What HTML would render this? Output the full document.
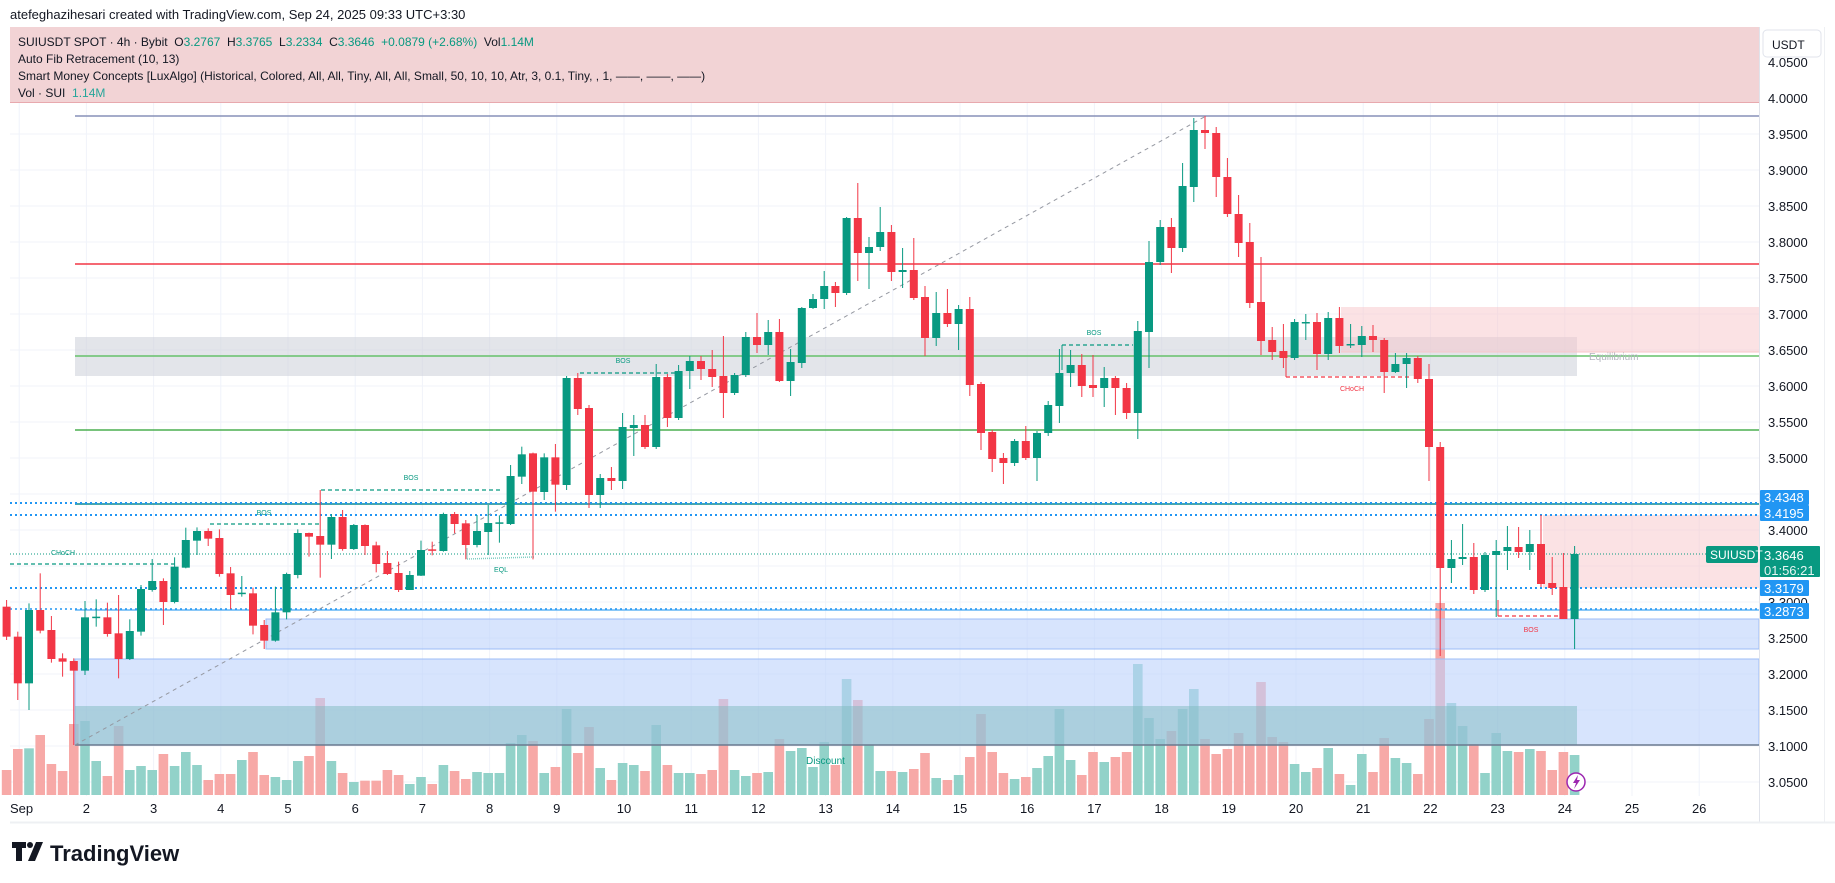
<!DOCTYPE html>
<html><head><meta charset="utf-8">
<style>
html,body{margin:0;padding:0;background:#fff;}
body{width:1835px;height:883px;overflow:hidden;position:relative;font-family:"Liberation Sans",sans-serif;}
svg{position:absolute;left:0;top:0;}
</style></head>
<body>
<svg id="s" width="1835" height="883" xmlns="http://www.w3.org/2000/svg" font-family="Liberation Sans, sans-serif"></svg>
<script>
const S=document.getElementById('s');
let h='';
const G='#089981',R='#f23645';
const xK=k=>17.8+(k-1)*11.2;
const AX=1759;
for(let d=1;d<=26;d++){const x=960+(d-15)*67.2;h+=`<line x1="${x}" y1="27" x2="${x}" y2="796" stroke="#f0f3fa" stroke-width="1"/>`;}
for(let i=0;i<=20;i++){const y=62+i*36;h+=`<line x1="10" y1="${y}" x2="${AX}" y2="${y}" stroke="#f0f3fa"/>`;}
h+=`<rect x="10" y="27" width="${AX-10}" height="76" fill="#f2d3d5"/><line x1="10" y1="102.5" x2="${AX}" y2="102.5" stroke="#e8a9ae"/>`;
const L=v=>440+v/3;
const v3=[990,927,925,885,972,993,852,843,963,1008,858,990,978,990,942,978,936,975,1020,1002,1002,960,936,1005,1011,1020,963,948,774,963,999,1026,1022,1022,990,1005,1032,1011,1032,975,993,1017,996,999,999,909,885,903,999,981,807,939,861,984,1020,969,975,993,855,975,999,999,1002,990,777,990,1008,999,996,897,933,924,981,906,975,717,780,915,993,993];
const v4=[996,987,939,1014,1020,1005,951,822,936,999,1017,1011,984,948,807,960,1005,936,966,951,936,672,834,897,873,807,747,897,942,927,879,912,726,891,906,972,996,984,924,1002,1035,942,996,894,954,969,1002,837,489,789,858,912,999,879,933,936,927,933,990,936,945];
const vols=v3.concat(v4);
const low=[['R',500,590,480,600],['R',590,730,575,780],['G',510,730,490,810],['R',510,572,400,580],['R',570,657,528,668],['R',655,665,640,710],['R',663,692,655,915],['G',532,692,483,705],['G',530,534,478,560],['R',532,582,488,590],['R',580,657,465,715],['G',573,657,538,660],['G',447,575,435,587],['G',423,450,357,455],['R',423,486,415,555],['G',380,486,352,490],['G',300,383,263,385],['G',273,302,262,345],['R',273,296,265,318],['R',294,402,268,410],['R',400,465,381,507],['G',458,462,408,470],['R',460,557,443,583],['R',555,602,540,627],['G',517,602,440,605],['G',402,517,398,538],['G',279,405,268,415],['R',279,290,278,350],['R',288,314,150,413],['G',231,314,222,357],['R',231,327,210,332],['G',255,327,252,330],['R',255,318,253,345],['R',316,372,305,397],['R',369,402,333,405],['R',399,450,365,456],['G',405,450,393,450],['G',330,407,302,408],['R',328,332,305,346],['G',222,333,218,335],['R',222,252,216,280],['R',250,315,240,358],['G',273,315,225,322],['G',249,276,195,345],['G',247,251,226,308],['G',108,252,75,255],['G',43,110,20,132],['R',40,155,38,358],['G',52,156,40,180],['R',52,134,12,215]].map(a=>[a[0],L(a[1]),L(a[2]),L(a[3]),L(a[4])]);
const up=`G 378 485 376 490;R 378 409 373 415;R 408 495 405 508;G 478 495 474 508;R 478 481 467 490;G 427 481 413 489;G 425 428 415 456;R 425 447 415 449;G 377 447 364 449;R 377 418 374 427;G 371 418 365 420;G 361 371 356 389;R 361 369 356 380;R 369 377 350 387;R 376 393 336 418;G 375 393 373 395;G 337 375 332 377;R 337 345 313 353;G 332 345 320 355;R 332 381 319 382;G 362 381 349 396;G 308 363 307 368;G 299 308 294 309;G 286 299 271 309;R 286 293 282 307;G 218 293 217 295;R 218 253 183 281;G 247 253 237 289;G 232 247 207 251;R 232 272 225 281;G 270 272 248 288;R 270 298 238 300;R 297 338 286 356;G 313 338 292 346;R 313 324 289 327;G 309 324 305 350;R 309 385 297 396;R 384 433 382 450;R 432 459 430 472;R 458 463 453 484;G 441 463 439 466;R 441 458 426 460;G 433 458 431 481;G 405 433 401 436;G 373 406 349 423;G 365 373 350 387;R 365 386 354 397;R 385 388 355 397;G 378 388 367 407;R 378 388 376 415;R 388 413 383 419;G 331 413 321 439;G 262 332 241 368;G 227 262 220 265;R 227 248 218 273;G 186 248 163 252;G 130 187 118 202;R 130 133 116 149;R 133 177 127 197;R 177 214 158 217;R 214 243 195 257;R 242 303 223 308;R 302 341 257 355;R 340 352 327 360;R 351 358 324 368;G 322 358 319 360;G 322 323 314 340;R 322 354 313 370;G 318 354 312 360;R 318 346 307 353;G 344 345 324 348;G 336 345 326 357;R 336 340 325 352;R 340 372 338 393;G 364 372 353 373;G 358 364 353 388;R 358 379 356 383;R 379 447 364 481;R 447 568 442 656;G 559 568 540 583;G 557 559 524 565;R 557 590 543 594;G 555 590 552 592;G 551 555 540 617;G 547 551 526 570;R 547 552 527 558;G 544 552 530 570;R 544 584 515 587;R 583 588 557 595;R 587 619 553 619;G 554 619 546 649`.split(';').map(s=>{const a=s.trim().split(' ');return [a[0],+a[1],+a[2],+a[3],+a[4]];});
const C=low.concat(up);
let vh='';
C.forEach((c,k)=>{const x=xK(k);const vt=L(vols[k]||1000);vh+=`<rect x="${x-4.8}" y="${vt}" width="9.6" height="${795-vt}" fill="${c[0]=='G'?'#92d2c9':'#f7a9a7'}"/>`;});
h+=vh;
h+=`<rect x="75" y="337" width="${1577-75}" height="39" fill="#d1d4dc" fill-opacity="0.6"/>`;
h+=`<rect x="1341" y="307" width="${AX-1341}" height="45" fill="#f7c6c9" fill-opacity="0.5"/><line x1="1341" y1="352" x2="${AX}" y2="352" stroke="#f7c6c9"/>`;
h+=`<rect x="1543" y="515" width="${AX-1543}" height="73" fill="#f7c6c9" fill-opacity="0.5"/>`;
h+=`<rect x="266" y="619" width="${AX-266}" height="30" fill="#bcd2fb" fill-opacity="0.6" stroke="#9dbdf7"/>`;
h+=`<rect x="75" y="659" width="${AX-75}" height="86" fill="#bcd2fb" fill-opacity="0.6" stroke="#9dbdf7"/>`;
h+=`<rect x="75" y="706" width="${1577-75}" height="39" fill="#7fb9c0" fill-opacity="0.5"/>`;
h+=`<line x1="75" y1="745" x2="${AX}" y2="745" stroke="#6b7a8f" stroke-width="1.5"/>`;
h+=`<line x1="75" y1="116" x2="${AX}" y2="116" stroke="#8791b8" stroke-width="1.5"/>`;
h+=`<line x1="75" y1="264" x2="${AX}" y2="264" stroke="#f23645" stroke-width="1.5"/>`;
h+=`<line x1="75" y1="356" x2="${AX}" y2="356" stroke="#66c26a" stroke-width="1.5"/>`;
h+=`<line x1="75" y1="430" x2="${AX}" y2="430" stroke="#4caf50" stroke-width="1.5"/>`;
h+=`<line x1="75" y1="504" x2="${AX}" y2="504" stroke="#0b8a8f" stroke-width="1.5"/>`;
h+=`<line x1="10" y1="503" x2="${AX}" y2="503" stroke="#2196f3" stroke-width="2" stroke-dasharray="2 3"/>`;
h+=`<line x1="10" y1="515" x2="${AX}" y2="515" stroke="#2196f3" stroke-width="2" stroke-dasharray="2 3"/>`;
h+=`<line x1="10" y1="554" x2="${AX}" y2="554" stroke="#089981" stroke-width="1" stroke-dasharray="1 2"/>`;
h+=`<line x1="10" y1="588" x2="${AX}" y2="588" stroke="#2196f3" stroke-width="2" stroke-dasharray="2 3"/>`;
h+=`<line x1="75" y1="610" x2="${AX}" y2="610" stroke="#64b5f6" stroke-width="1.5"/>`;
h+=`<line x1="10" y1="609" x2="${AX}" y2="609" stroke="#2196f3" stroke-width="1.5" stroke-dasharray="2 3"/>`;
h+=`<line x1="75" y1="745" x2="1206" y2="116" stroke="#9598a1" stroke-width="1" stroke-dasharray="4 4"/>`;
const dl=(x1,y1,x2,y2,c)=>`<line x1="${x1}" y1="${y1}" x2="${x2}" y2="${y2}" stroke="${c}" stroke-width="1.3" stroke-dasharray="4 3"/>`;
h+=dl(580,373,675,373,G)+dl(321,490,502,490,G)+dl(210,524,321,524,G)+dl(10,564,175,564,G)+dl(1062,345,1133,345,G)+`<line x1="1062" y1="345" x2="1062" y2="370" stroke="${G}"/>`;
h+=`<line x1="467" y1="559" x2="534" y2="557" stroke="#7fcfc3" stroke-width="1.5" stroke-dasharray="1 1"/><line x1="467" y1="548" x2="467" y2="559" stroke="#7fcfc3"/>`;
h+=dl(1286,377,1410,377,R)+`<line x1="1286" y1="352" x2="1286" y2="377" stroke="${R}"/>`+dl(1498,616,1562,616,R)+`<line x1="1498" y1="600" x2="1498" y2="616" stroke="${R}"/>`;
C.forEach((c,k)=>{const x=xK(k);const col=c[0]=='G'?G:R;let bt=c[1],bb=c[2];if(bb-bt<1.5)bb=bt+1.5;
h+=`<line x1="${x}" y1="${c[3]}" x2="${x}" y2="${c[4]}" stroke="${col}" stroke-width="1"/><rect x="${x-4}" y="${bt}" width="8" height="${bb-bt}" fill="${col}"/>`;});
const t=(x,y,s,c,fs,anc)=>`<text x="${x}" y="${y}" fill="${c}" font-size="${fs}" ${anc?'text-anchor="'+anc+'"':''}>${s}</text>`;
h+=t(623,363,'BOS',G,7,'middle')+t(411,480,'BOS',G,7,'middle')+t(264,515,'BOS',G,7,'middle')+t(63,555,'CHoCH',G,7,'middle')+t(501,572,'EQL',G,7,'middle')+t(1094,335,'BOS',G,7,'middle')+t(1352,391,'CHoCH',R,7,'middle')+t(1531,632,'BOS',R,7,'middle')+t(1589,360,'Equilibrium','#b2b5be',10)+t(806,764,'Discount',G,10);
h+=t(10,19,'atefeghazihesari created with TradingView.com, Sep 24, 2025 09:33 UTC+3:30','#131722',13);
h+=`<text x="18" y="46" font-size="12" fill="#131722" xml:space="preserve" style="white-space:pre">SUIUSDT SPOT · 4h · Bybit  O<tspan fill="${G}">3.2767</tspan>  H<tspan fill="${G}">3.3765</tspan>  L<tspan fill="${G}">3.2334</tspan>  C<tspan fill="${G}">3.3646</tspan>  <tspan fill="${G}">+0.0879 (+2.68%)</tspan>  Vol<tspan fill="${G}">1.14M</tspan></text>`;
h+=t(18,63,'Auto Fib Retracement (10, 13)','#131722',12);
h+=t(18,80,'Smart Money Concepts [LuxAlgo] (Historical, Colored, All, All, Tiny, All, All, Small, 50, 10, 10, Atr, 3, 0.1, Tiny, , 1, ——, ——, ——)','#131722',12);
h+=`<text x="18" y="97" font-size="12" fill="#131722" style="white-space:pre">Vol · SUI  <tspan fill="#26a69a">1.14M</tspan></text>`;
h+=`<line x1="1759.5" y1="27" x2="1759.5" y2="822" stroke="#e0e3eb"/><line x1="1824.5" y1="27" x2="1824.5" y2="822" stroke="#eef0f3"/><line x1="10" y1="822.5" x2="1835" y2="822.5" stroke="#eef0f3" stroke-width="2"/>`;
for(let i=0;i<=20;i++){const p=(4.05-i*0.05).toFixed(4);const y=62+i*36;h+=t(1768,y+5,p,'#131722',13);}
h+=`<rect x="1763" y="30" width="58" height="27" rx="4" fill="#fff" stroke="#e0e3eb"/>`+t(1772,49,'USDT','#131722',12);
const bx=(y1,y2,s)=>`<rect x="1760" y="${y1}" width="49" height="${y2-y1}" rx="1" fill="#2196f3"/>`+t(1764,y2-3,s,'#fff',13);
h+=bx(490,505,'3.4348')+bx(505,521,'3.4195')+bx(580,596,'3.3179')+bx(603,619,'3.2873');
h+=`<rect x="1760" y="546" width="60" height="31" rx="1" fill="${G}"/>`+t(1764,560,'3.3646','#fff',13)+t(1764,575,'01:56:21','#e6f5f2',13);
h+=`<rect x="1706" y="546" width="52" height="17" rx="2" fill="${G}"/>`+t(1710,559,'SUIUSDT','#fff',12);
h+=t(10,813,'Sep','#131722',13);
for(let d=2;d<=26;d++){const x=960+(d-15)*67.2;h+=t(x,813,d,'#131722',13,'middle');}
h+=`<circle cx="1576" cy="782" r="9" fill="#fff" stroke="#9c27b0" stroke-width="1.5"/><path d="M1578 775 L1573 783 L1576 783 L1574 789 L1580 780 L1577 780 Z" fill="#9c27b0"/>`;
h+=`<path d="M12 842 h14 v6 h-4 v13 h-6 v-13 h-4 z" fill="#131722"/><circle cx="30" cy="845" r="3" fill="#131722"/><path d="M36 842 h7 l-8 19 h-7 z" fill="#131722"/>`;
h+=`<text x="50" y="861" font-size="22" font-weight="bold" fill="#131722">TradingView</text>`;
S.innerHTML=h;
</script>
</body></html>
